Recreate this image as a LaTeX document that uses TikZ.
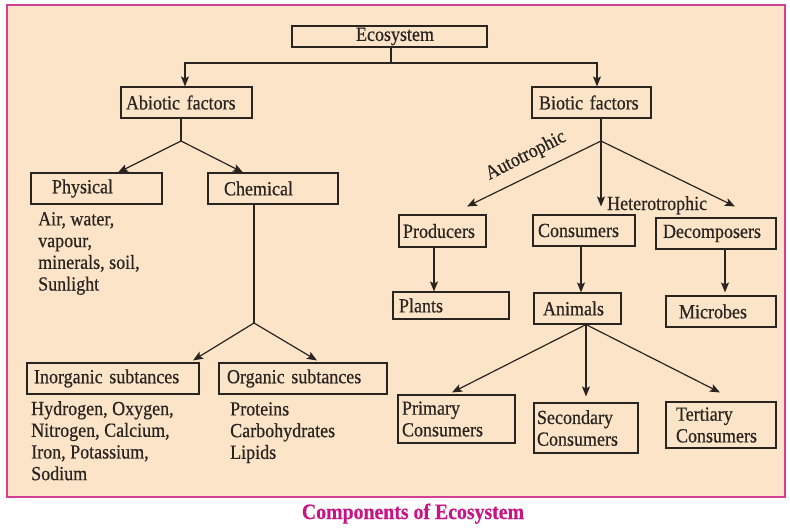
\documentclass[tikz,border=0pt]{standalone}
\usepackage{fontspec}
\setmainfont[FakeStretch=0.9,FakeBold=0.5]{Liberation Serif}
\usetikzlibrary{arrows.meta}
\definecolor{bgpeach}{HTML}{FCE4C8}
\definecolor{framepink}{HTML}{D33F94}
\definecolor{capmag}{HTML}{C71585}
\definecolor{ink}{HTML}{2A2420}
\begin{document}
\begin{tikzpicture}[x=1pt,y=-1pt,
  box/.style={draw=ink, line width=1.1pt, rectangle, inner ysep=0pt, align=left, text=ink,
              font=\fontsize{20}{21.7}\selectfont},
  txt/.style={text=ink, align=left, inner sep=0pt, font=\fontsize{20}{21.7}\selectfont},
  conn/.style={draw=ink, line width=1.2pt},
  arr/.style={conn, -{Stealth[length=10pt,width=8pt,inset=2pt]}}]
\useasboundingbox (0,0) rectangle (790,532);
\draw[framepink, fill=bgpeach, line width=1.5pt] (7,5) rectangle (785,497);

% boxes
\node[box, minimum width=195pt, minimum height=21pt, inner xsep=64pt, text width=67pt] (eco) at (389.5,36.5) {Ecosystem};
\node[box, minimum width=131pt, minimum height=31pt, inner xsep=5pt, text width=121pt] (abio) at (186.5,102.5) {Abiotic factors};
\node[box, minimum width=119pt, minimum height=31pt, inner xsep=7pt, text width=105pt] (bio) at (591.5,102.5) {Biotic factors};
\node[box, minimum width=131pt, minimum height=31pt, inner xsep=21pt, text width=89pt] (phys) at (96.5,188.5) {Physical};
\node[box, minimum width=130pt, minimum height=31pt, inner xsep=16pt, text width=98pt] (chem) at (273,188.5) {Chemical};
\node[box, minimum width=172pt, minimum height=31pt, inner xsep=7pt, text width=158pt] (inorg) at (113,378.5) {Inorganic subtances};
\node[box, minimum width=168pt, minimum height=31pt, inner xsep=8pt, text width=152pt] (org) at (303,378.5) {Organic subtances};
\node[box, minimum width=87pt, minimum height=32pt, inner xsep=4pt, text width=79pt] (prod) at (442.5,231) {Producers};
\node[box, minimum width=102pt, minimum height=31pt, inner xsep=5pt, text width=92pt] (cons) at (584,230.5) {Consumers};
\node[box, minimum width=120pt, minimum height=31pt, inner xsep=7pt, text width=106pt] (deco) at (716,233.5) {Decomposers};
\node[box, minimum width=116pt, minimum height=27pt, inner xsep=6pt, text width=104pt] (plants) at (451,305.5) {Plants};
\node[box, minimum width=87pt, minimum height=31pt, inner xsep=9pt, text width=69pt] (anim) at (577.5,308.5) {Animals};
\node[box, minimum width=110pt, minimum height=31pt, inner xsep=13pt, text width=84pt] (micro) at (721,311.5) {Microbes};
\node[box, minimum width=117pt, minimum height=48pt, inner xsep=4pt, text width=109pt] (prim) at (456.5,419) {Primary\\Consumers};
\node[box, minimum width=104pt, minimum height=50pt, inner xsep=3pt, text width=98pt] (sec) at (586,428) {Secondary\\Consumers};
\node[box, minimum width=110pt, minimum height=46pt, inner xsep=10pt, text width=90pt] (tert) at (721,425) {Tertiary\\Consumers};

% free texts
\node[txt, anchor=north west] (physlist) at (38,212) {Air, water,\\vapour,\\minerals, soil,\\Sunlight};
\node[txt, anchor=north west] (inorglist) at (31,401) {Hydrogen, Oxygen,\\Nitrogen, Calcium,\\Iron, Potassium,\\Sodium};
\node[txt, anchor=north west] (orglist) at (230,402) {Proteins\\Carbohydrates\\Lipids};
\node[txt, rotate=27] (auto) at (526,156) {Autotrophic};
\node[txt, anchor=base west] (hetero) at (607,210) {Heterotrophic};
\node[anchor=base, inner sep=0pt, text=capmag, font=\bfseries\fontsize{22}{24}\selectfont] (cap) at (413,519) {Components of Ecosystem};

% junctions
\coordinate (j1) at (391,63);
\coordinate (j2) at (181,141);
\coordinate (j3) at (254,323);
\coordinate (j4) at (601,141);

% connectors
\draw[conn] (eco.south -| j1) -- (j1);
\draw[arr] (j1) -| ([xshift=-1.5pt]abio.north);
\draw[arr] (j1) -| ([xshift=5.5pt]bio.north);

\draw[conn] (abio.south -| j2) -- (j2);
\draw[arr] (j2) -- ([xshift=21.5pt]phys.north);
\draw[arr] (j2) -- ([xshift=-30pt]chem.north);

\draw[conn] (chem.south -| j3) -- (j3);
\draw[arr] (j3) -- ([xshift=80pt,yshift=2pt]inorg.north);
\draw[arr] (j3) -- ([xshift=14pt,yshift=2pt]org.north);

\draw[conn] (bio.south -| j4) -- (j4);
\draw[arr] (j4) -- ([xshift=24.5pt,yshift=8pt]prod.north);
\draw[arr] (j4) -- ([xshift=17pt,yshift=8pt]cons.north);
\draw[arr] (j4) -- ([xshift=19pt,yshift=11pt]deco.north);

\draw[arr] ([xshift=-8.5pt]prod.south) -- ([xshift=-8.5pt]prod.south |- plants.north);
\draw[arr] ([xshift=-3pt]cons.south) -- ([xshift=-3pt]cons.south |- anim.north);
\draw[arr] ([xshift=9pt]deco.south) -- ([xshift=9pt,yshift=3pt]deco.south |- micro.north);

\draw[arr] ([xshift=8.5pt]anim.south) -- ([xshift=-4.5pt,yshift=2pt]prim.north);
\draw[arr] ([xshift=8.5pt]anim.south) -- ([yshift=6pt]sec.north);
\draw[arr] ([xshift=8.5pt]anim.south) -- ([xshift=-1pt,yshift=9pt]tert.north);
\end{tikzpicture}
\end{document}
